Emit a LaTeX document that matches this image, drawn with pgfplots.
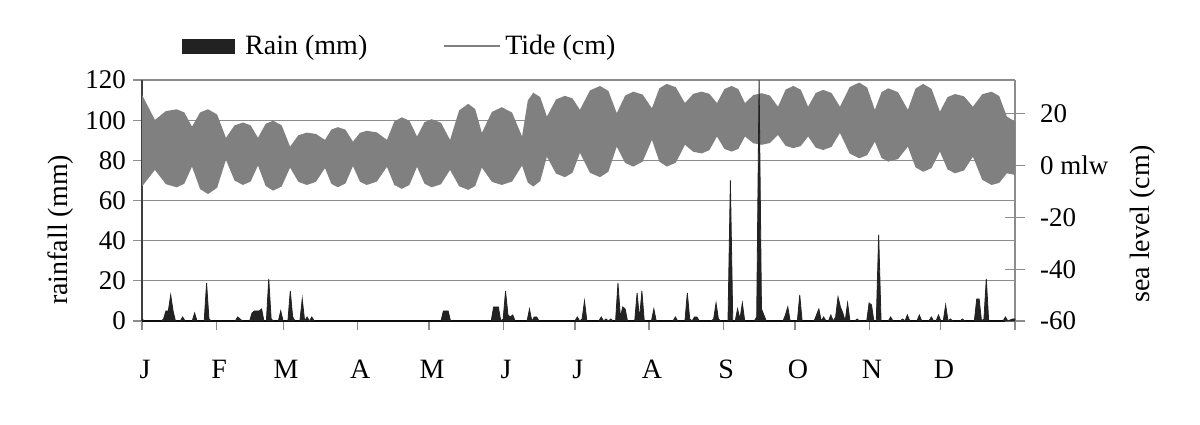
\documentclass[border=0pt]{standalone}
\usepackage{fontspec}
\setmainfont{Liberation Serif}
\usepackage{pgfplots}
\pgfplotsset{compat=1.18}

\definecolor{tidegray}{HTML}{808080}
\definecolor{raindark}{HTML}{222222}
\definecolor{gridgray}{HTML}{8C8C8C}

\pgfplotsset{
  common/.style={
    width=436.5pt, height=120.5pt, scale only axis,
    xmin=0, xmax=365,
    every tick label/.append style={font=\fontsize{13.5}{15}\selectfont},
    label style={font=\fontsize{14}{16}\selectfont},
    /pgf/number format/assume math mode=true,
  },
}

\begin{document}
\begin{tikzpicture}
\path[use as bounding box] (-71pt,-51.5pt) rectangle (529pt,160.5pt);

% left axis: rainfall scale, grid, months
\begin{axis}[common,
    ymin=0, ymax=120, ytick={0,20,...,120},
    ymajorgrids, grid style={gridgray, line width=0.6pt},
    axis x line*=bottom, axis y line*=left,
    x axis line style={-, black, line width=0.7pt},
    y axis line style={-, black!75, line width=0.7pt},
    tick align=outside,
    major tick length=4.5pt,
    tick style={gridgray, line width=0.6pt},
    xtick={0,31,59,90,120,151,181,212,243,273,304,334,365},
    xticklabels={J,F,M,A,M,J,J,A,S,O,N,D,{}},
    xticklabel style={anchor=base, yshift=-24pt, xshift=1.5pt, font=\fontsize{14}{16}\selectfont},
    ylabel={rainfall (mm)},
    ylabel style={at={(axis description cs:-0.0928,0.378)}, anchor=center},
]
\addplot[draw=none, forget plot] coordinates {(0,0)};
\node[anchor=base, font=\fontsize{14}{16}\selectfont] at (axis description cs:-0.0808,-0.236) {Month:};
\end{axis}

% right axis: sea level
\begin{axis}[common,
    ymin=-60, ymax=33,
    axis x line=none, axis y line*=right,
    y axis line style={-, gridgray, line width=0.7pt},
    ytick={-60,-40,-20,0,20},
    yticklabels={-60,-40,-20,0 mlw,20},
    yticklabel style={xshift=4pt},
    tick align=center, major tick length=10pt,
    tick style={gridgray, line width=0.6pt},
    ylabel={sea level (cm)},
    ylabel style={at={(axis description cs:1.1466,0.402)}, anchor=center},
]
% tide range: upper envelope forward, lower envelope back
\addplot[fill=tidegray, draw=none, forget plot] coordinates {
 (0,27.3)(5.4,17.6)(10.0,21.0)(14.5,21.7)(17.7,20.5)(20.9,15.0)(24.3,20.5)(27.6,21.7)
 (31.4,19.7)(35.1,10.7)(38.7,15.5)(42.2,16.6)(45.4,15.5)(48.5,10.7)(51.7,16.1)(54.8,17.3)
 (58.4,15.5)(61.9,7.3)(65.4,11.7)(68.9,12.7)(72.7,12.2)(76.5,9.9)(79.2,13.9)(81.9,14.8)
 (85.1,13.8)(88.2,9.2)(91.1,12.6)(93.9,13.4)(98.2,12.8)(102.4,9.9)(105.5,17.0)(108.6,18.6)
 (111.8,17.3)(115.0,11.2)(118.1,16.7)(121.1,17.9)(125.0,16.5)(128.8,9.9)(132.6,21.3)
 (136.4,23.8)(139.3,21.8)(142.1,12.6)(146.3,20.7)(150.4,22.5)(154.7,20.5)(158.9,11.2)
 (161.3,25.1)(163.6,28.1)(166.5,26.4)(169.3,18.9)(173.1,25.5)(176.8,26.9)(180.0,25.9)
 (183.1,21.5)(187.3,29.0)(191.5,30.7)(195.0,28.8)(198.5,20.2)(202.0,27.0)(205.4,28.5)
 (209.3,27.4)(213.2,22.1)(216.3,29.8)(219.4,31.5)(223.2,30.2)(227.0,24.1)(230.5,27.7)
 (234.0,28.5)(237.2,27.7)(240.4,24.1)(243.5,29.5)(246.5,30.7)(249.3,29.5)(252.1,24.1)
 (255.6,27.2)(259.1,27.9)(262.5,27.0)(265.9,22.7)(269.1,29.3)(272.3,30.7)(275.4,29.3)
 (278.5,22.7)(281.7,28.0)(284.8,29.2)(288.3,28.0)(291.8,22.7)(295.9,30.3)(299.9,32.0)
 (303.2,30.1)(306.4,21.5)(309.2,28.3)(312.0,29.8)(316.1,28.3)(320.2,21.5)(323.4,29.7)
 (326.6,31.5)(330.1,29.6)(333.6,20.8)(336.8,26.4)(339.9,27.6)(343.7,26.7)(347.4,22.7)
 (351.3,27.5)(355.2,28.5)(358.4,26.8)(361.6,18.9)(365,17.0)
 (365,-3.6)(361.6,-3.0)(358.4,-6.7)(355.2,-7.5)(351.3,-5.5)(347.4,3.4)(343.7,-1.9)
 (339.9,-3.0)(336.8,-1.5)(333.6,5.4)(330.1,-1.0)(326.6,-2.4)(323.4,-0.7)(320.2,7.3)
 (316.1,2.5)(312.0,1.5)(309.2,2.9)(306.4,9.2)(303.2,4.0)(299.9,2.8)(295.9,4.6)(291.8,12.6)
 (288.3,7.2)(284.8,6.0)(281.7,6.9)(278.5,11.2)(275.4,7.5)(272.3,6.7)(269.1,7.6)(265.9,11.8)
 (262.5,8.7)(259.1,8.0)(255.6,8.6)(252.1,11.2)(249.3,6.4)(246.5,5.4)(243.5,6.4)(240.4,11.2)
 (237.2,5.9)(234.0,4.7)(230.5,5.3)(227.0,8.0)(223.2,1.1)(219.4,-0.4)(216.3,1.5)(213.2,9.9)
 (209.3,1.5)(205.4,-0.4)(202.0,1.0)(198.5,7.3)(195.0,-2.4)(191.5,-4.5)(187.3,-2.8)
 (183.1,4.9)(180.0,-2.8)(176.8,-4.5)(173.1,-3.1)(169.3,3.4)(166.5,-6.0)(163.6,-8.1)
 (161.3,-6.6)(158.9,0)(154.7,-6.2)(150.4,-7.5)(146.3,-6.3)(142.1,-0.8)(139.3,-7.9)
 (136.4,-9.4)(132.6,-8.0)(128.8,-1.7)(125.0,-7.2)(121.1,-8.4)(118.1,-7.0)(115.0,-0.5)
 (111.8,-7.5)(108.6,-9.0)(105.5,-7.5)(102.4,-0.5)(98.2,-6.2)(93.9,-7.5)(91.1,-6.2)
 (88.2,-0.2)(85.1,-6.9)(81.9,-8.4)(79.2,-7.1)(76.5,-1.0)(72.7,-6.3)(68.9,-7.5)(65.4,-6.3)
 (61.9,-0.8)(58.4,-8.1)(54.8,-9.7)(51.7,-7.9)(48.5,0)(45.4,-6.2)(42.2,-7.5)(38.7,-5.8)
 (35.1,2.2)(31.4,-8.6)(27.6,-11.0)(24.3,-9.1)(20.9,-0.4)(17.7,-7.0)(14.5,-8.4)(10.0,-7.2)
 (5.4,-1.7)(0,-8.1)
} -- cycle;
\end{axis}

% rain on top, legend
\begin{axis}[common,
    ymin=0, ymax=120, hide axis,
    legend columns=2,
    legend style={at={(axis description cs:0.039,1.059)}, anchor=south west,
      draw=none, fill=none, font=\fontsize{14}{16}\selectfont,
      /tikz/every even column/.append style={column sep=36pt}},
]
\addplot[draw=raindark, fill=raindark, line width=0.4pt,
  legend image code/.code={\fill[raindark] (0pt,-3.5pt) rectangle (26pt,3.5pt); \path (29pt,0pt);}]
coordinates {
 (0,1)(1,0)(8,0)(9,1)(10,5)(11,5)(12,13)(13,5)(14,0)(16,0)(17,2)(18,0)(21,0)(22,4)(23,0)
 (26,0)(27,19)(28,1)(29,0)(39,0)(40,2)(41,1)(42,0)(45,0)(46,4)(47,5)(48,5)(49,5)(50,6)
 (51,0)(52,0)(53,21)(54,1)(55,0)(57,0)(58,5)(59,0)(61,0)(62,15)(63,2)(64,0)(66,0)(67,11)
 (68,0)(69,2)(70,0)(71,2)(72,0)(125,0)(126,5)(127,5)(128,5)(129,0)(146,0)(147,7)(148,7)
 (149,7)(150,0)(151,1)(152,15)(153,3)(154,2)(155,3)(156,0)(161,0)(162,6)(163,0)(164,2)
 (165,2)(166,0)(181,0)(182,2)(183,0)(184,1)(185,10)(186,0)(191,0)(192,2)(193,0)(194,1)
 (195,0)(196,1)(197,0)(198,0)(199,19)(200,2)(201,7)(202,6)(203,0)(206,0)(207,14)(208,1)
 (209,15)(210,0)(213,0)(214,6)(215,0)(222,0)(223,2)(224,0)(227,0)(228,14)(229,1)(230,0)
 (231,2)(232,2)(233,0)(238,0)(239,1)(240,9)(241,1)(242,0)(245,0)(246,70)(247,0)(248,0)
 (249,6)(250,1)(251,9)(252,0)(256,0)(257,2)(258,120)(259,6)(260,3)(261,0)(268,0)(269,3)
 (270,7)(271,0)(274,0)(275,13)(276,0)(281,0)(282,3)(283,6)(284,0)(285,2)(286,0)(287,0)
 (288,3)(289,0)(290,2)(291,12)(292,7)(293,4)(294,0)(295,9)(296,0)(298,0)(299,1)(300,0)
 (303,0)(304,9)(305,8)(306,0)(307,0)(308,43)(309,0)(312,0)(313,2)(314,0)(317,0)(318,1)
 (319,0)(320,3)(321,0)(324,0)(325,3)(326,0)(329,0)(330,2)(331,0)(332,0)(333,3)(334,0)
 (335,0)(336,8)(337,0)(338,1)(339,0)(342,0)(343,1)(344,0)(348,0)(349,11)(350,11)(351,0)
 (352,1)(353,21)(354,0)(360,0)(361,2)(362,0)(364,1)(365,1)
} \closedcycle;
\addlegendentry{Rain (mm)}
\addlegendimage{legend image code/.code={\draw[tidegray, line width=1pt] (0pt,0pt) -- (28pt,0pt);}}
\addlegendentry{Tide (cm)}
\end{axis}
\end{tikzpicture}
\end{document}
